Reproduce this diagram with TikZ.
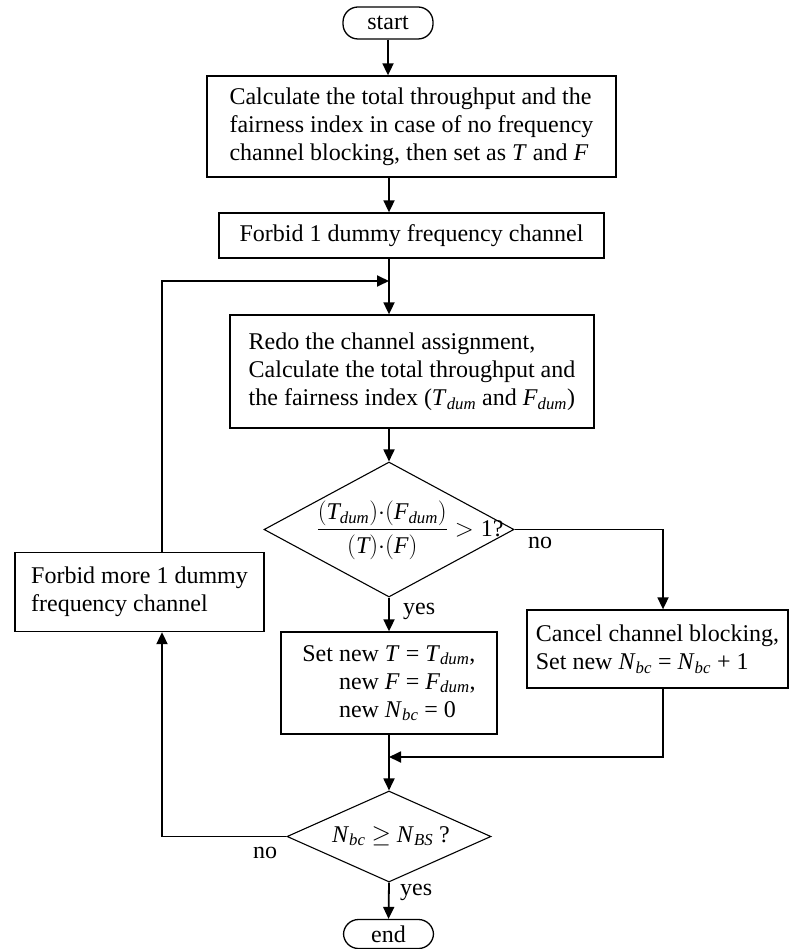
\documentclass[tikz,border=0pt]{standalone}
\usepackage{fontspec}
\setmainfont{Liberation Serif}
\usepackage{amsmath}
\usetikzlibrary{shapes.geometric,arrows.meta}

% italic symbol with italic subscript, in text and in math
\newcommand\sub[2]{\textit{#1}\textsubscript{\textit{#2}}}
\newcommand\msub[2]{\textit{#1}_{\textit{#2}}}

\begin{document}
\begin{tikzpicture}[x=1pt,y=-1pt,
  every node/.style={font=\fontsize{24}{28}\selectfont},
  proc/.style={draw, line width=1.3pt, inner sep=0pt, align=left},
  term/.style={draw, line width=1.3pt, rounded corners=15pt, minimum width=90pt,
               minimum height=32pt, inner sep=0pt},
  dec/.style={draw, diamond, line width=1.1pt, inner sep=0pt},
  flow/.style={line width=1.8pt, -{Triangle[length=12pt,width=11pt]}},
  tag/.style={inner sep=0pt}]

\useasboundingbox (0,0) rectangle (790,949);

% process column
\node[term] (start) at (388,23) {start};
\node[proc, minimum width=409pt, minimum height=101pt] (calc) at (411.5,126.5)
  {Calculate the total throughput and the\\
   fairness index in case of no frequency\\
   channel blocking, then set as \textit{T} and \textit{F}};
\node[proc, minimum width=385pt, minimum height=45pt] (forbid) at (411.5,235.5)
  {Forbid 1 dummy frequency channel};
\node[proc, minimum width=364pt, minimum height=113pt] (redo) at (412,371.5)
  {Redo the channel assignment,\\
   Calculate the total throughput and\\
   the fairness index (\sub{T}{dum} and \sub{F}{dum})};

% first decision
\node[dec, minimum width=250pt, minimum height=135pt] (ratio) at (389,529.5) {};
\node[tag] (ratiotext) at (410,530)
  {$\dfrac{{\left(\msub{T}{dum}\right)}{\cdot}{\left(\msub{F}{dum}\right)}}
          {(\textit{T}){\cdot}(\textit{F})}>\text{1?}$};
\node[tag, anchor=west] (no1) at (528,543) {no};
\node[tag, anchor=west] (yes1) at (403,611) {yes};

% branches
\node[proc, minimum width=216pt, minimum height=102pt] (setnew) at (389,683)
  {Set new \textit{T} = \sub{T}{dum},\\
   \phantom{Set }new \textit{F} = \sub{F}{dum},\\
   \phantom{Set }new \sub{N}{bc} = 0};
\node[proc, minimum width=261pt, minimum height=78pt] (cancel) at (657.5,649)
  {Cancel channel blocking,\\
   Set new \sub{N}{bc} = \sub{N}{bc} + 1};
\node[proc, minimum width=249pt, minimum height=79pt] (more) at (139.5,592)
  {Forbid more 1 dummy\\
   frequency channel};

% second decision
\node[dec, minimum width=204pt, minimum height=91pt] (check) at (389,836.5) {};
\node[tag] (checktext) at (391,836) {\sub{N}{bc} $\geq$ \sub{N}{BS} ?};
\node[tag, anchor=west] (no2) at (253,853) {no};
\node[tag, anchor=west] (yes2) at (400,892) {yes};
\node[term, minimum height=29pt] (end) at (388.5,934) {end};

% routing points
\coordinate (axis) at (389,0);
\coordinate (loopTop) at (162,281);
\coordinate (loopJoin) at (389,281);
\coordinate (rx) at (663,529.5);
\coordinate (merge) at (389,757);
\coordinate (lx) at (162,836.5);

% connectors
\draw[flow] (start.south) -- (start.south |- calc.north);
\draw[flow] (calc.south -| axis) -- (forbid.north -| axis);
\draw[flow] (forbid.south -| axis) -- (redo.north -| axis);
\draw[flow] (more.north -| loopTop) -- (loopTop) -- (loopJoin);
\draw[flow] (redo.south -| axis) -- (ratio.north);
\draw[flow] (ratio.south) -- (setnew.north);
\draw[flow] (ratio.east) -- (rx) -- (rx |- cancel.north);
\draw[flow] (cancel.south -| rx) -- (rx |- merge) -- (merge);
\draw[flow] (setnew.south) -- (check.north);
\draw[flow] (check.west) -- (lx) -- (lx |- more.south);
\draw[flow] (check.south) -- (end.north);
\end{tikzpicture}
\end{document}
